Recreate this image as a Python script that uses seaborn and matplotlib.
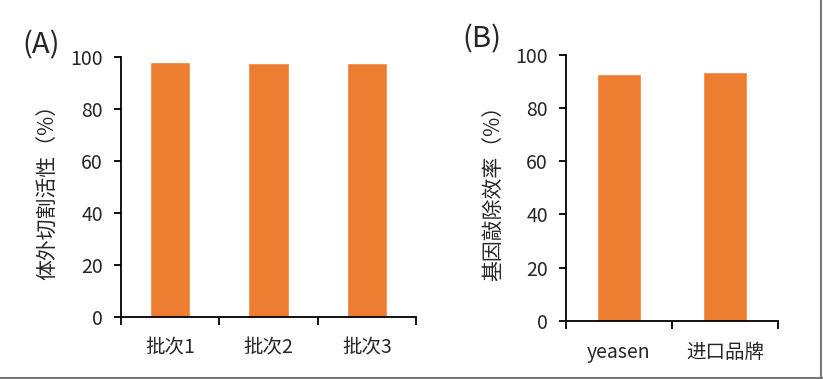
import matplotlib
matplotlib.use("Agg")
import matplotlib.pyplot as plt
import seaborn as sns
import pandas as pd
from matplotlib.lines import Line2D

# Data
batches = ["批次1", "批次2", "批次3"]
cleavage_activity = [98.1, 97.7, 97.7]
brands = ["yeasen", "进口品牌"]
knockout_efficiency = [92.7, 93.5]
yticks = [0, 20, 40, 60, 80, 100]

sns.set_theme(style="white")
plt.rcParams["font.family"] = ["Noto Sans CJK SC", "DejaVu Sans"]
plt.rcParams["font.weight"] = "medium"

BAR = "#ED7D31"
fig = plt.figure(figsize=(8.23, 3.79), dpi=100)
axA = fig.add_axes([0.147, 0.1636, 0.3585, 0.686])
axB = fig.add_axes([0.6877, 0.1538, 0.2576, 0.7011])

dfA = pd.DataFrame({"cat": batches, "val": cleavage_activity})
dfB = pd.DataFrame({"cat": brands, "val": knockout_efficiency})

sns.barplot(data=dfA, x="cat", y="val", color=BAR, saturation=1, width=0.41, ax=axA)
sns.barplot(data=dfB, x="cat", y="val", color=BAR, saturation=1, width=0.415, ax=axB)

def style(ax, cats, ylabel):
    n = len(cats)
    ax.set_xlim(-0.5, n - 0.5)
    ax.set_ylim(0, 100)
    ax.set_yticks(yticks)
    ax.set_yticklabels([str(v) for v in yticks], fontsize=14)
    ax.set_xticks([i - 0.5 for i in range(n + 1)])
    ax.set_xticklabels([""] * (n + 1))
    ax.set_xticks(list(range(n)), minor=True)
    ax.set_xticklabels(cats, minor=True, fontsize=14)
    ax.tick_params(axis="x", which="major", direction="out", length=6, width=1.3, color="black", bottom=True)
    ax.tick_params(axis="x", which="minor", length=0, pad=15, bottom=True)
    ax.tick_params(axis="y", direction="out", length=5, width=1.3, color="black", pad=8, left=True)
    for s in ["top", "right"]:
        ax.spines[s].set_visible(False)
    for s in ["left", "bottom"]:
        ax.spines[s].set_color("black")
        ax.spines[s].set_linewidth(1.3)
    ax.set_xlabel("")
    ax.set_ylabel(ylabel, fontsize=15, labelpad=8)

style(axA, batches, "体外切割活性（%）")
style(axB, brands, "基因敲除效率（%）")

fig.text(0.05, 0.88, "(A)", fontsize=21, ha="center", va="center")
fig.text(0.585, 0.895, "(B)", fontsize=21, ha="center", va="center")

# frame lines on right and bottom
fig.add_artist(Line2D([0, 1], [0.003, 0.003], transform=fig.transFigure, color="#777777", lw=1.5))
fig.add_artist(Line2D([0.9975, 0.9975], [0, 1], transform=fig.transFigure, color="#777777", lw=1.5))

fig.savefig("out.png", dpi=100)
